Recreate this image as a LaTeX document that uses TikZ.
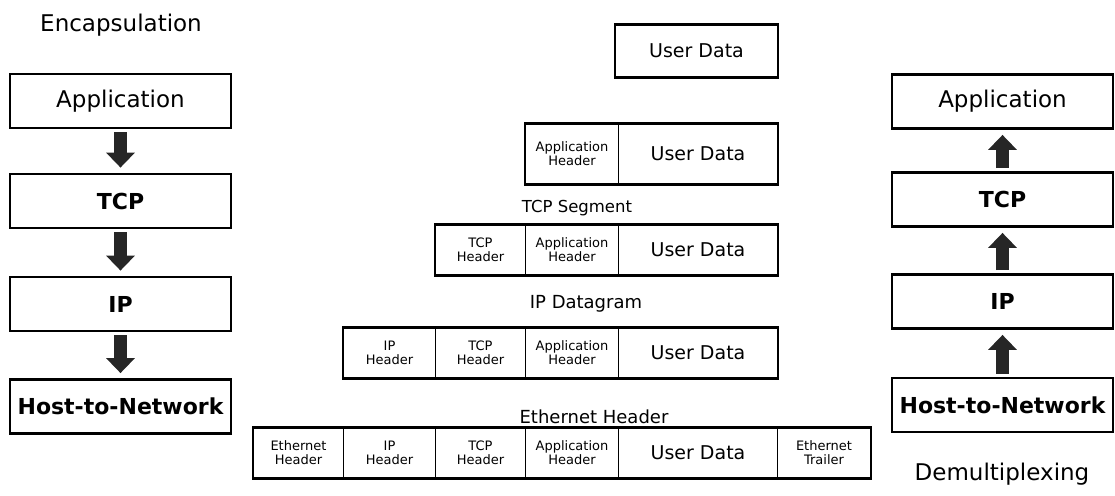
\documentclass[tikz,border=0pt]{standalone}
\usepackage{fontspec}
\setmainfont{DejaVu Sans}
\usetikzlibrary{arrows.meta}
\begin{document}
\begin{tikzpicture}[x=1pt,y=-1pt,
  layer/.style={draw, line width=2.8pt, minimum width=221pt, minimum height=54pt, inner sep=0pt, font=\fontsize{23}{26}\selectfont},
  blayer/.style={layer, font=\fontsize{22}{25}\selectfont\bfseries},
  cell/.style={draw, line width=1pt, inner sep=0pt, anchor=west, align=center, font=\fontsize{13}{14}\selectfont},
  datacell/.style={cell, font=\fontsize{19}{22}\selectfont},
  frame/.style={draw, line width=2.4pt},
  bigarrow/.style={draw=black!85, line width=13pt, -{Triangle[width=28pt,length=15pt]}, shorten <=3pt, shorten >=5pt},
  title/.style={font=\fontsize{23}{26}\selectfont},
  lbl/.style={font=\fontsize{18}{21}\selectfont}
]
\useasboundingbox (0,0) rectangle (1115,495);

% ---------- left column: encapsulation ----------
\node[title] (enc) at (121,25) {Encapsulation};
\node[layer]  (lapp) at (120.5,101) {Application};
\node[blayer] (ltcp) at (120.5,201) {TCP};
\node[blayer] (lip)  at (120.5,304) {IP};
\node[blayer] (lhost) at (120.5,406.5) {Host-to-Network};
\draw[bigarrow] (lapp.south) -- (ltcp.north);
\draw[bigarrow] (ltcp.south) -- (lip.north);
\draw[bigarrow] (lip.south) -- (lhost.north);

% ---------- right column: demultiplexing ----------
\node[layer]  (rapp) at (1002.5,101.5) {Application};
\node[blayer] (rtcp) at (1002.5,199.5) {TCP};
\node[blayer] (rip)  at (1002.5,301.5) {IP};
\node[blayer] (rhost) at (1002.5,405) {Host-to-Network};
\node[title] (demux) at (1002,474) {Demultiplexing};
\draw[bigarrow] (rhost.north) -- (rip.south);
\draw[bigarrow] (rip.north) -- (rtcp.south);
\draw[bigarrow] (rtcp.north) -- (rapp.south);

% ---------- row 1 ----------
\node[datacell, minimum width=162pt, minimum height=52pt] (ud1) at (615,51) {User Data};
\draw[frame] (ud1.north west) rectangle (ud1.south east);

% ---------- row 2 ----------
\node[cell, minimum width=93pt, minimum height=60pt] (ah2) at (525,154) {Application\\Header};
\node[datacell, minimum width=159pt, minimum height=60pt] (ud2) at (618,154) {User Data};
\draw[frame] (ah2.north west) rectangle (ud2.south east);

% ---------- row 3 ----------
\node[lbl, font=\fontsize{16.5}{19}\selectfont] (segl) at (577,208) {TCP Segment};
\node[cell, minimum width=90pt, minimum height=50pt] (th3) at (435,250) {TCP\\Header};
\node[cell, minimum width=93pt, minimum height=50pt] (ah3) at (525,250) {Application\\Header};
\node[datacell, minimum width=159pt, minimum height=50pt] (ud3) at (618,250) {User Data};
\draw[frame] (th3.north west) rectangle (ud3.south east);

% ---------- row 4 ----------
\node[lbl] (dgl) at (586,304) {IP Datagram};
\node[cell, minimum width=92pt, minimum height=50pt] (ih4) at (343,353) {IP\\Header};
\node[cell, minimum width=90pt, minimum height=50pt] (th4) at (435,353) {TCP\\Header};
\node[cell, minimum width=93pt, minimum height=50pt] (ah4) at (525,353) {Application\\Header};
\node[datacell, minimum width=159pt, minimum height=50pt] (ud4) at (618,353) {User Data};
\draw[frame] (ih4.north west) rectangle (ud4.south east);

% ---------- row 5 ----------
\node[lbl] (ethl) at (594,417) {Ethernet Header};
\node[cell, minimum width=90pt, minimum height=50pt] (eh5) at (253,453) {Ethernet\\Header};
\node[cell, minimum width=92pt, minimum height=50pt] (ih5) at (343,453) {IP\\Header};
\node[cell, minimum width=90pt, minimum height=50pt] (th5) at (435,453) {TCP\\Header};
\node[cell, minimum width=93pt, minimum height=50pt] (ah5) at (525,453) {Application\\Header};
\node[datacell, minimum width=159pt, minimum height=50pt] (ud5) at (618,453) {User Data};
\node[cell, minimum width=93pt, minimum height=50pt] (et5) at (777,453) {Ethernet\\Trailer};
\draw[frame] (eh5.north west) rectangle (et5.south east);
\end{tikzpicture}
\end{document}
